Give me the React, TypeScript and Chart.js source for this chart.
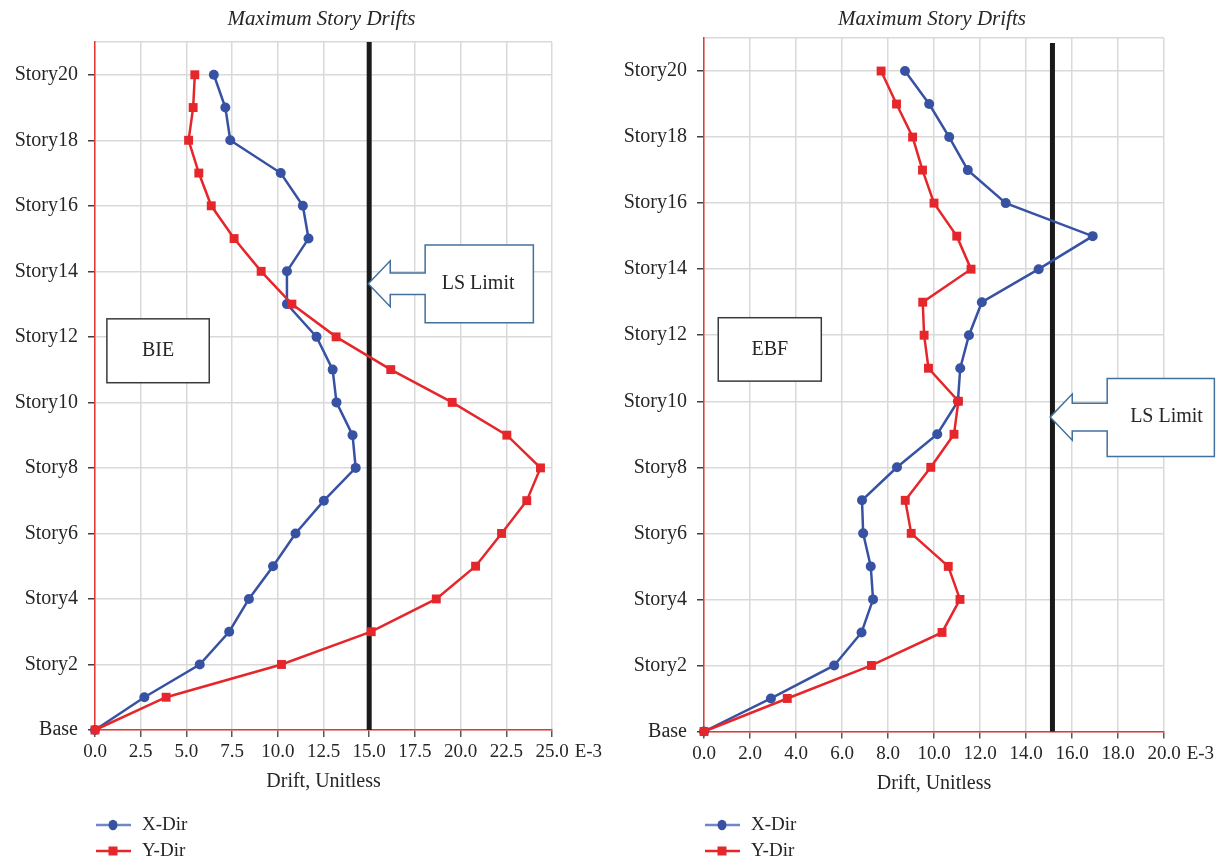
import React, { useEffect, useRef } from 'react';
import { Chart, registerables } from 'chart.js';

Chart.register(...registerables);

// ---------- data ----------
const STORY_LEVELS = [0, 1, 2, 3, 4, 5, 6, 7, 8, 9, 10, 11, 12, 13, 14, 15, 16, 17, 18, 19, 20];
const Y_TICK_VALUES = [0, 2, 4, 6, 8, 10, 12, 14, 16, 18, 20];
const Y_TICK_LABELS = ['Base', 'Story2', 'Story4', 'Story6', 'Story8', 'Story10', 'Story12', 'Story14', 'Story16', 'Story18', 'Story20'];
const Y_AXIS_MAX = 21;

// drift values (x 10^-3), index = story level (Base..Story20)
const BIE_X_DIR = [0, 2.7, 5.73, 7.34, 8.42, 9.74, 10.97, 12.52, 14.26, 14.09, 13.21, 13.0, 12.12, 10.5, 10.5, 11.68, 11.37, 10.16, 7.4, 7.13, 6.5];
const BIE_Y_DIR = [0, 3.89, 10.2, 15.11, 18.67, 20.82, 22.24, 23.62, 24.37, 22.53, 19.54, 16.18, 13.19, 10.77, 9.09, 7.61, 6.36, 5.68, 5.12, 5.37, 5.46];
const EBF_X_DIR = [0, 2.91, 5.66, 6.85, 7.35, 7.25, 6.92, 6.87, 8.39, 10.14, 11.04, 11.14, 11.52, 12.08, 14.55, 16.9, 13.12, 11.47, 10.66, 9.79, 8.74];
const EBF_Y_DIR = [0, 3.62, 7.28, 10.35, 11.13, 10.62, 9.01, 8.75, 9.86, 10.87, 11.06, 9.76, 9.57, 9.51, 11.61, 10.99, 10.0, 9.5, 9.07, 8.37, 7.7];

// LS limit lines (x value, y extent)
const BIE_LS_LIMIT_X = [15, 15];
const BIE_LS_LIMIT_Y = [0, 21];
const EBF_LS_LIMIT_X = [15.15, 15.15];
const EBF_LS_LIMIT_Y = [0, 20.85];

// x axes
const BIE_X_MAX = 25;
const BIE_X_STEP = 2.5;
const EBF_X_MAX = 20;
const EBF_X_STEP = 2;

const TITLE = 'Maximum Story Drifts';
const X_TITLE = 'Drift, Unitless';
const X_UNIT = 'E-3';
const SERIES_LABELS = ['X-Dir', 'Y-Dir'];

// ---------- styles ----------
const FONT = '"Liberation Serif", "Times New Roman", serif';
const TEXT = '#262626';
const BLUE = '#3852a3';
const BLUE_LEGEND_LINE = '#6f87c7';
const RED = '#e5262b';
const GRID = '#d9d9d9';
const AXIS_RED = '#e53935';
const CALLOUT = '#41719c';

const toPoints = (xs: number[], ys: number[]) => xs.map((v, i) => ({ x: v, y: ys[i] }));

type Panel = {
  left: number;
  width: number;
  padding: { top: number; right: number; bottom: number; left: number };
  yWidth: number;
  xMax: number;
  xStep: number;
  xDir: number[];
  yDir: number[];
  limitX: number[];
  limitY: number[];
  label: { text: string; x1: number; x2: number; y1: number; y2: number };
  callout: { text: string; tipX: number; tipY: number; headX: number; headHalf: number; stemHalf: number; x1: number; x2: number; y1: number; y2: number; textX: number };
};

const PANELS: Panel[] = [
  {
    left: 0,
    width: 630,
    padding: { top: 42, right: 78, bottom: 58, left: 0 },
    yWidth: 95,
    xMax: BIE_X_MAX,
    xStep: BIE_X_STEP,
    xDir: BIE_X_DIR,
    yDir: BIE_Y_DIR,
    limitX: BIE_LS_LIMIT_X,
    limitY: BIE_LS_LIMIT_Y,
    label: { text: 'BIE', x1: 0.65, x2: 6.25, y1: 10.6, y2: 12.55 },
    callout: { text: 'LS Limit', tipX: 14.95, tipY: 13.62, headX: 16.15, headHalf: 0.7, stemHalf: 0.33, x1: 18.06, x2: 23.98, y1: 12.43, y2: 14.8, textX: 20.96 },
  },
  {
    left: 600,
    width: 621,
    padding: { top: 38, right: 57, bottom: 56.5, left: 0 },
    yWidth: 104,
    xMax: EBF_X_MAX,
    xStep: EBF_X_STEP,
    xDir: EBF_X_DIR,
    yDir: EBF_Y_DIR,
    limitX: EBF_LS_LIMIT_X,
    limitY: EBF_LS_LIMIT_Y,
    label: { text: 'EBF', x1: 0.62, x2: 5.1, y1: 10.61, y2: 12.53 },
    callout: { text: 'LS Limit', tipX: 15.05, tipY: 9.52, headX: 16.01, headHalf: 0.7, stemHalf: 0.42, x1: 17.53, x2: 22.19, y1: 8.33, y2: 10.69, textX: 20.11 },
  },
];

function overlayPlugin(panel: Panel) {
  return {
    id: 'overlay' + panel.left,
    afterDatasetsDraw(chart: any) {
      const { ctx, scales } = chart;
      const xs = scales.x;
      const ys = scales.y;
      const px = (v: number) => xs.getPixelForValue(v);
      const py = (v: number) => ys.getPixelForValue(v);
      ctx.save();
      // text box (BIE / EBF)
      const lb = panel.label;
      const lx1 = px(lb.x1), lx2 = px(lb.x2), ly1 = py(lb.y2), ly2 = py(lb.y1);
      ctx.fillStyle = '#ffffff';
      ctx.fillRect(lx1, ly1, lx2 - lx1, ly2 - ly1);
      ctx.strokeStyle = '#3a3a3a';
      ctx.lineWidth = 1.5;
      ctx.strokeRect(lx1, ly1, lx2 - lx1, ly2 - ly1);
      ctx.fillStyle = TEXT;
      ctx.font = '20px ' + FONT;
      ctx.textAlign = 'center';
      ctx.textBaseline = 'middle';
      ctx.fillText(lb.text, (lx1 + lx2) / 2, (ly1 + ly2) / 2);

      // left-arrow callout
      const c = panel.callout;
      const tx = px(c.tipX), ty = py(c.tipY);
      const hx = px(c.headX);
      const hh = py(c.tipY - c.headHalf) - ty;
      const sh = py(c.tipY - c.stemHalf) - ty;
      const bx1 = px(c.x1), bx2 = px(c.x2), bt = py(c.y2), bb = py(c.y1);
      ctx.beginPath();
      ctx.moveTo(bx1, bt);
      ctx.lineTo(bx2, bt);
      ctx.lineTo(bx2, bb);
      ctx.lineTo(bx1, bb);
      ctx.lineTo(bx1, ty + sh);
      ctx.lineTo(hx, ty + sh);
      ctx.lineTo(hx, ty + hh);
      ctx.lineTo(tx, ty);
      ctx.lineTo(hx, ty - hh);
      ctx.lineTo(hx, ty - sh);
      ctx.lineTo(bx1, ty - sh);
      ctx.closePath();
      ctx.fillStyle = '#ffffff';
      ctx.fill();
      ctx.strokeStyle = CALLOUT;
      ctx.lineWidth = 1.5;
      ctx.stroke();
      ctx.fillStyle = TEXT;
      ctx.fillText(c.text, px(c.textX), ty);
      ctx.restore();
    },
    afterDraw(chart: any) {
      const { ctx, chartArea, scales } = chart;
      const xs = scales.x;
      ctx.save();
      // title
      ctx.fillStyle = TEXT;
      ctx.font = 'italic 21px ' + FONT;
      ctx.textAlign = 'center';
      ctx.textBaseline = 'alphabetic';
      ctx.fillText(TITLE, (chartArea.left + chartArea.right) / 2 - 2, 25);

      // unit label after last x tick
      ctx.font = '19px ' + FONT;
      const lastLabel = panel.xMax.toFixed(1);
      const w = ctx.measureText(lastLabel).width;
      ctx.textAlign = 'left';
      ctx.textBaseline = 'middle';
      ctx.fillText(X_UNIT, xs.getPixelForValue(panel.xMax) + w / 2 + 6, xs.top + 11 + 11.4);

      // legend (vertical list, bottom-left)
      const legendDs = chart.data.datasets.filter((d: any) => d.inLegend).sort((a: any, b: any) => a.legendIndex - b.legendIndex);
      legendDs.forEach((d: any, i: number) => {
        const cy = chart.height - 35 + i * 26;
        const lx = chartArea.left + 1;
        ctx.strokeStyle = d.legendLine;
        ctx.lineWidth = 2.5;
        ctx.beginPath();
        ctx.moveTo(lx, cy);
        ctx.lineTo(lx + 35, cy);
        ctx.stroke();
        ctx.fillStyle = d.backgroundColor;
        if (d.pointStyle === 'circle') {
          ctx.beginPath();
          ctx.ellipse(lx + 17, cy, 4.5, 5.2, 0, 0, Math.PI * 2);
          ctx.fill();
        } else {
          ctx.fillRect(lx + 12.5, cy - 4.5, 9, 9);
        }
        ctx.fillStyle = TEXT;
        ctx.font = '19px ' + FONT;
        ctx.textAlign = 'left';
        ctx.textBaseline = 'middle';
        ctx.fillText(d.label, chartArea.left + 47, cy);
      });
      ctx.restore();
    },
  };
}

function buildConfig(panel: Panel): any {
  return {
    type: 'scatter',
    data: {
      datasets: [
        {
          label: SERIES_LABELS[1],
          data: toPoints(panel.yDir, STORY_LEVELS),
          showLine: true,
          borderColor: RED,
          backgroundColor: RED,
          borderWidth: 2.5,
          pointStyle: 'rect',
          pointRadius: 6.3,
          pointBorderWidth: 0,
          tension: 0,
          clip: false,
          order: 0,
          inLegend: true,
          legendIndex: 1,
          legendLine: RED,
        },
        {
          label: SERIES_LABELS[0],
          data: toPoints(panel.xDir, STORY_LEVELS),
          showLine: true,
          borderColor: BLUE,
          backgroundColor: BLUE,
          borderWidth: 2.5,
          pointStyle: 'circle',
          pointRadius: 5,
          pointBorderWidth: 0,
          tension: 0,
          clip: false,
          order: 1,
          inLegend: true,
          legendIndex: 0,
          legendLine: BLUE_LEGEND_LINE,
        },
        {
          label: 'LS Limit',
          data: toPoints(panel.limitX, panel.limitY),
          showLine: true,
          borderColor: '#1a1a1a',
          borderWidth: 5,
          pointRadius: 0,
          clip: false,
          order: 2,
          inLegend: false,
        },
      ],
    },
    options: {
      responsive: false,
      animation: false,
      events: [],
      devicePixelRatio: 1,
      layout: { padding: panel.padding },
      plugins: {
        legend: { display: false },
        title: { display: false },
        tooltip: { enabled: false },
      },
      scales: {
        x: {
          type: 'linear',
          min: 0,
          max: panel.xMax,
          afterFit: (s: any) => {
            s.height = 72;
          },
          ticks: {
            stepSize: panel.xStep,
            color: TEXT,
            font: { family: FONT, size: 19 },
            padding: 4,
            maxRotation: 0,
            autoSkip: false,
            callback: (v: any) => Number(v).toFixed(1),
          },
          grid: {
            color: GRID,
            lineWidth: 1.5,
            tickLength: 7,
            tickColor: '#595959',
            tickWidth: 1.5,
          },
          border: { display: true, color: AXIS_RED, width: 1.5 },
          title: {
            display: true,
            text: X_TITLE,
            color: TEXT,
            font: { family: FONT, size: 20 },
            padding: { top: 0, bottom: 8 },
          },
        },
        y: {
          type: 'linear',
          min: 0,
          max: Y_AXIS_MAX,
          afterFit: (s: any) => {
            s.width = panel.yWidth;
          },
          afterBuildTicks: (s: any) => {
            s.ticks = [...Y_TICK_VALUES, Y_AXIS_MAX].map((v) => ({ value: v }));
          },
          ticks: {
            color: TEXT,
            font: { family: FONT, size: 20 },
            padding: 10,
            autoSkip: false,
            callback: (v: any) => {
              const i = Y_TICK_VALUES.indexOf(Number(v));
              return i >= 0 ? Y_TICK_LABELS[i] : '';
            },
          },
          grid: {
            color: GRID,
            lineWidth: 1.5,
            tickLength: 7,
            tickColor: (ctx: any) => (ctx.tick && ctx.tick.value > 20 ? 'rgba(0,0,0,0)' : '#404040'),
            tickWidth: 1.5,
          },
          border: { display: true, color: AXIS_RED, width: 1.5 },
        },
      },
    },
    plugins: [overlayPlugin(panel)],
  };
}

function DriftChart({ panel }: { panel: Panel }) {
  const ref = useRef<HTMLCanvasElement>(null);
  useEffect(() => {
    if (!ref.current) return;
    const chart = new Chart(ref.current, buildConfig(panel));
    return () => chart.destroy();
  }, [panel]);
  return (
    <canvas
      ref={ref}
      width={panel.width}
      height={860}
      style={{ position: 'absolute', left: panel.left, top: 0, width: panel.width, height: 860 }}
    />
  );
}

export default function App() {
  return (
    <div style={{ position: 'absolute', left: 0, top: 0, width: 1221, height: 860, background: '#ffffff', overflow: 'hidden' }}>
      {PANELS.map((p) => (
        <DriftChart key={p.left} panel={p} />
      ))}
    </div>
  );
}
